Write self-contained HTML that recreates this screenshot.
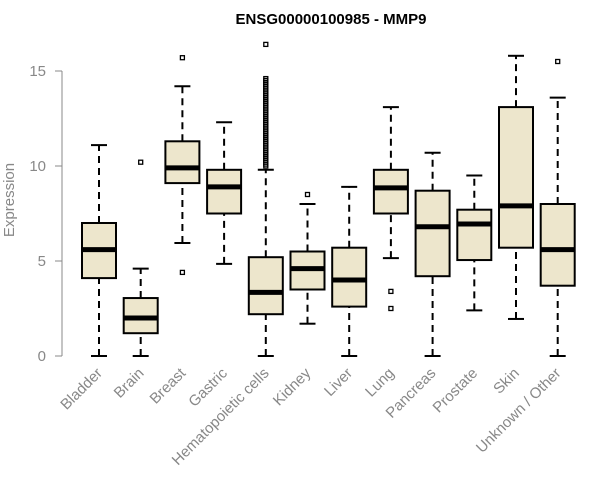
<!DOCTYPE html>
<html><head><meta charset="utf-8"><style>
body{margin:0;background:#fff;}
svg{display:block;font-family:"Liberation Sans",Arial,sans-serif;}
</style></head><body>
<svg id="c" width="600" height="500">
<text x="331" y="24" text-anchor="middle" font-weight="bold" font-size="15">ENSG00000100985 - MMP9</text>
<text transform="translate(14,200) rotate(-90)" text-anchor="middle" font-size="15" fill="#888">Expression</text>
</svg>
<script>
const categories=["Bladder","Brain","Breast","Gastric","Hematopoietic cells","Kidney","Liver","Lung","Pancreas","Prostate","Skin","Unknown / Other"];
const lowWhisker=[0,0,5.95,4.85,0,1.7,0,5.15,0,2.4,1.95,0];
const q1=[4.1,1.2,9.1,7.5,2.2,3.5,2.6,7.5,4.2,5.05,5.7,3.7];
const median=[5.6,2.0,9.9,8.9,3.35,4.6,4.0,8.85,6.8,6.95,7.9,5.6];
const q3=[7.0,3.05,11.3,9.8,5.2,5.5,5.7,9.8,8.7,7.7,13.1,8.0];
const highWhisker=[11.1,4.6,14.2,12.3,9.8,8.0,8.9,13.1,10.7,9.5,15.8,13.6];
const outliers=[[],[10.2],[4.4,15.7],[],[10.0,10.1,10.2,10.3,10.4,10.5,10.6,10.7,10.8,10.9,11.0,11.1,11.2,11.3,11.4,11.5,11.6,11.7,11.8,11.9,12.0,12.1,12.2,12.3,12.4,12.5,12.6,12.7,12.8,12.9,13.0,13.1,13.2,13.3,13.4,13.5,13.6,13.7,13.8,13.9,14.0,14.1,14.2,14.3,14.4,14.5,14.6,16.4],[8.5],[],[3.4,2.5],[],[],[],[15.5]];
const yTicks=[0,5,10,15];
const svg=document.getElementById('c');
const NS='http://www.w3.org/2000/svg';
const y=v=>356-v*19;
const x=i=>99+i*41.7;
function mk(t,a){const e=document.createElementNS(NS,t);for(const k in a)e.setAttribute(k,a[k]);svg.appendChild(e);return e;}
let ax=mk('line',{x1:62,x2:62,y1:y(15),y2:y(0),stroke:'#888'});


yTicks.forEach(t=>{
 let l=mk('line',{x1:55,x2:62,y1:y(t),y2:y(t),stroke:'#888'});
 
 
 let tx=mk('text',{x:46,y:y(t)+5,'text-anchor':'end','font-size':15,fill:'#888'});
 tx.textContent=t;
 
 
});
categories.forEach((c,i)=>{
 const cx=x(i),w=34;
 let g=mk('g',{});
 
 
 const add=(t,a)=>{const e=document.createElementNS(NS,t);for(const k in a)e.setAttribute(k,a[k]);g.appendChild(e);return e;};
 add('line',{x1:cx,x2:cx,y1:y(lowWhisker[i]),y2:y(q1[i]),stroke:'#000','stroke-width':2,'stroke-dasharray':'7,5'});
 add('line',{x1:cx,x2:cx,y1:y(q3[i]),y2:y(highWhisker[i]),stroke:'#000','stroke-width':2,'stroke-dasharray':'7,5'});
 add('line',{x1:cx-8,x2:cx+8,y1:y(lowWhisker[i]),y2:y(lowWhisker[i]),stroke:'#000','stroke-width':2});
 add('line',{x1:cx-8,x2:cx+8,y1:y(highWhisker[i]),y2:y(highWhisker[i]),stroke:'#000','stroke-width':2});
 add('rect',{x:cx-w/2,y:y(q3[i]),width:w,height:y(q1[i])-y(q3[i]),fill:'#ede6cc',stroke:'#000','stroke-width':2});
 add('line',{x1:cx-w/2,x2:cx+w/2,y1:y(median[i]),y2:y(median[i]),stroke:'#000','stroke-width':5});
 outliers[i].forEach(o=>{
  let p=add('rect',{x:cx-2,y:y(o)-2,width:4,height:4,fill:'none',stroke:'#000','stroke-width':1.3});
  
  
 });
 let lb=mk('text',{x:cx+4,y:374,'text-anchor':'end','font-size':15,fill:'#888',transform:`rotate(-45 ${cx+4} 374)`});
 lb.textContent=c;
 
 
});
</script>
</body></html>
